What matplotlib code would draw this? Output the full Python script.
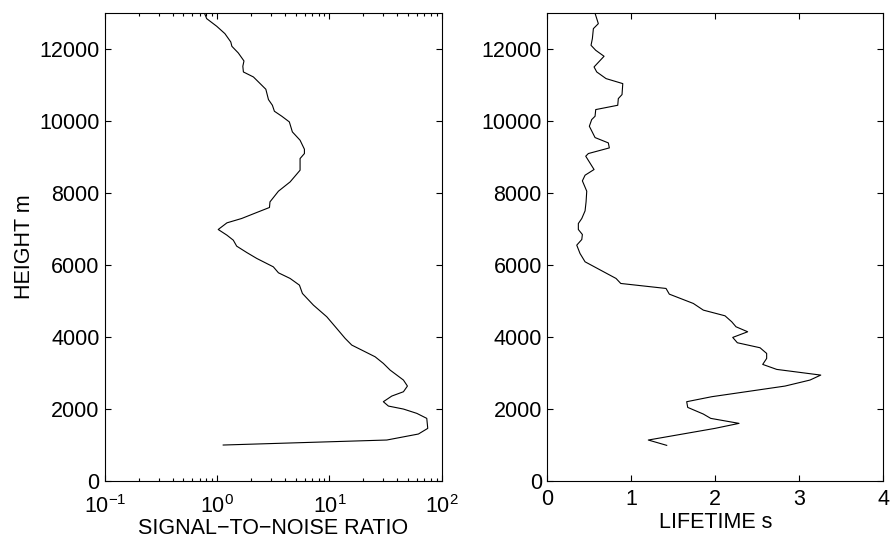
import matplotlib
matplotlib.use("Agg")
import matplotlib.pyplot as plt
from matplotlib.ticker import LogLocator, FixedLocator

plt.rcParams['font.family'] = ['Liberation Sans', 'DejaVu Sans']
plt.rcParams['mathtext.fontset'] = 'custom'
plt.rcParams['mathtext.rm'] = 'Liberation Sans'
plt.rcParams['mathtext.it'] = 'Liberation Sans'
plt.rcParams['mathtext.default'] = 'regular'

# Signal-to-noise ratio profile (height in m)
snr_height = [13000, 12852, 12639, 12435, 12204, 12083, 11898, 11676, 11528, 11370,
              11231, 11092, 10889, 10602, 10444, 10278, 10139, 9981, 9704, 9472,
              9222, 9102, 8963, 8639, 8314, 8056, 7759, 7603, 7464, 7297,
              7176, 6991, 6833, 6694, 6528, 6352, 6186, 5953, 5787, 5630,
              5444, 5213, 4889, 4565, 4241, 3963, 3778, 3639, 3453, 3269,
              3083, 2806, 2639, 2481, 2361, 2204, 2083, 2000, 1880, 1741,
              1463, 1306, 1139, 1000]
snr_value = [0.77, 0.805, 0.99, 1.17, 1.32, 1.35, 1.54, 1.73, 1.69, 1.71,
             2.10, 2.33, 2.71, 2.86, 3.10, 3.23, 3.76, 4.39, 4.67, 5.47,
             5.98, 5.98, 5.47, 5.47, 4.46, 3.51, 2.95, 2.92, 2.25, 1.65,
             1.22, 1.02, 1.22, 1.39, 1.49, 1.83, 2.25, 3.16, 3.51, 4.46,
             5.40, 5.74, 7.19, 9.46, 11.6, 13.8, 15.8, 19.4, 25.5, 30.2,
             34.7, 45.6, 49.5, 45.6, 35.9, 30.2, 33.5, 45.6, 60.0, 73.6,
             75.1, 62.0, 32.4, 1.13]

# Lifetime profile (height in m)
life_height = [13000, 12713, 12574, 12296, 12111, 11972, 11806, 11509, 11370, 11185,
               11046, 10741, 10630, 10444, 10324, 10139, 10046, 9861, 9546, 9398,
               9259, 9102, 9028, 8658, 8500, 8343, 8056, 7759, 7509, 7297,
               7157, 6991, 6852, 6713, 6556, 6324, 6093, 5769, 5630, 5491,
               5352, 5194, 4935, 4750, 4592, 4426, 4287, 4148, 3991, 3843,
               3704, 3546, 3407, 3241, 3102, 2944, 2806, 2639, 2343, 2204,
               2046, 1861, 1741, 1602, 1463, 1139, 991]
life_value = [0.568, 0.607, 0.548, 0.536, 0.52, 0.576, 0.675, 0.556, 0.588, 0.699,
              0.898, 0.889, 0.845, 0.838, 0.576, 0.568, 0.528, 0.50, 0.568, 0.726,
              0.738, 0.488, 0.457, 0.556, 0.449, 0.417, 0.469, 0.461, 0.449, 0.41,
              0.369, 0.369, 0.417, 0.41, 0.35, 0.389, 0.449, 0.707, 0.818, 0.874,
              1.413, 1.452, 1.738, 1.857, 2.115, 2.195, 2.246, 2.385, 2.207, 2.262,
              2.532, 2.611, 2.611, 2.564, 2.731, 3.255, 3.127, 2.83, 1.957, 1.659,
              1.671, 1.857, 1.945, 2.282, 1.996, 1.202, 1.421]

height_ticks = [0, 2000, 4000, 6000, 8000, 10000, 12000]
lifetime_ticks = [0, 1, 2, 3, 4]

fig = plt.figure(figsize=(8.9, 5.39), dpi=100)
ax1 = fig.add_axes([0.118, 0.1076, 0.3783, 0.8677])
ax2 = fig.add_axes([0.615, 0.1076, 0.3775, 0.8677])

for ax in (ax1, ax2):
    ax.tick_params(which='both', direction='in', top=True, right=True,
                   labelsize=15.5, width=0.8, colors='black')
    ax.tick_params(which='major', length=4)
    ax.tick_params(which='minor', length=2)
    ax.tick_params(axis='y', pad=4)
    for sp in ax.spines.values():
        sp.set_linewidth(0.8)
    ax.set_ylim(0, 13000)
    ax.yaxis.set_major_locator(FixedLocator(height_ticks))

ax1.plot(snr_value, snr_height, color='black', linewidth=0.8)
ax1.set_xscale('log')
ax1.set_xlim(0.1, 100)
ax1.xaxis.set_major_locator(LogLocator(base=10, numticks=10))
ax1.xaxis.set_minor_locator(LogLocator(base=10, subs=range(2, 10), numticks=20))
ax1.tick_params(axis='x', pad=10)
ax1.set_xlabel('SIGNAL\u2212TO\u2212NOISE RATIO', fontsize=15.5, labelpad=0)
ax1.set_ylabel('HEIGHT m', fontsize=15.5, labelpad=3)

ax2.plot(life_value, life_height, color='black', linewidth=0.8)
ax2.set_xlim(0, 4)
ax2.xaxis.set_major_locator(FixedLocator(lifetime_ticks))
ax2.tick_params(axis='x', pad=6)
ax2.set_xlabel('LIFETIME s', fontsize=15.5, labelpad=1)

fig.savefig('out.png', dpi=100)
